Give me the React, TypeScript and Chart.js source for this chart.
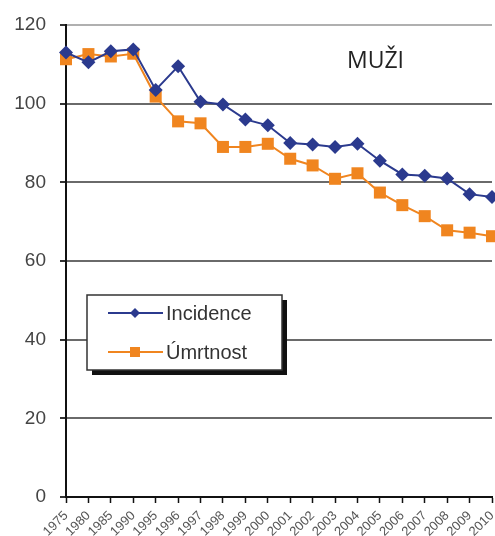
import React, { useEffect, useRef } from "react";
import { Chart, registerables } from "chart.js";

Chart.register(...registerables);

const years: string[] = [
  "1975", "1980", "1985", "1990", "1995", "1996", "1997", "1998", "1999", "2000",
  "2001", "2002", "2003", "2004", "2005", "2006", "2007", "2008", "2009", "2010",
];

const incidence: number[] = [
  113, 110.5, 113.3, 113.8, 103.5, 109.5, 100.5, 99.8, 96, 94.5,
  90, 89.6, 89, 89.8, 85.5, 82, 81.7, 81, 77, 76.3,
];

const mortality: number[] = [
  111.3, 112.6, 112, 112.7, 101.8, 95.5, 95, 89, 89, 89.8,
  86, 84.3, 80.9, 82.3, 77.4, 74.2, 71.4, 67.8, 67.2, 66.3,
];

const seriesNames: string[] = ["Incidence", "Úmrtnost"];
const title = "MUŽI";
const yTicks: number[] = [0, 20, 40, 60, 80, 100, 120];

const BLUE = "#2b3a8e";
const ORANGE = "#f0851f";

const overlayPlugin = {
  id: "overlay",
  afterDraw(chart: any) {
    const ctx = chart.ctx as CanvasRenderingContext2D;
    ctx.save();
    // title
    ctx.font = '23px "Open Sans", "Noto Sans", sans-serif';
    ctx.fillStyle = "#222";
    ctx.textAlign = "left";
    ctx.textBaseline = "alphabetic";
    ctx.fillText(title, 347, 68);

    // legend box with shadow
    const bx = 87, by = 295, bw = 195, bh = 75;
    ctx.fillStyle = "#111";
    ctx.fillRect(bx + 5, by + 5, bw, bh);
    ctx.fillStyle = "#fff";
    ctx.fillRect(bx, by, bw, bh);
    ctx.strokeStyle = "#333";
    ctx.lineWidth = 1.5;
    ctx.strokeRect(bx, by, bw, bh);

    const items = [
      { name: seriesNames[0], color: BLUE, y: 313, style: "diamond" },
      { name: seriesNames[1], color: ORANGE, y: 352, style: "square" },
    ];
    items.forEach((it) => {
      ctx.strokeStyle = it.color;
      ctx.lineWidth = 2;
      ctx.beginPath();
      ctx.moveTo(108, it.y);
      ctx.lineTo(163, it.y);
      ctx.stroke();
      ctx.fillStyle = it.color;
      ctx.beginPath();
      if (it.style === "diamond") {
        ctx.moveTo(135, it.y - 5);
        ctx.lineTo(140, it.y);
        ctx.lineTo(135, it.y + 5);
        ctx.lineTo(130, it.y);
        ctx.closePath();
        ctx.fill();
      } else {
        ctx.fillRect(130, it.y - 5, 10, 10);
      }
      ctx.fillStyle = "#333";
      ctx.font = '20px "Liberation Sans", Arial, sans-serif';
      ctx.textAlign = "left";
      ctx.textBaseline = "middle";
      ctx.fillText(it.name, 166, it.y + 1);
    });
    ctx.restore();
  },
};

export default function App() {
  const ref = useRef<HTMLCanvasElement>(null);

  useEffect(() => {
    document.body.style.margin = "0";
    const canvas = ref.current;
    if (!canvas) return;
    const chart = new Chart(canvas, {
      type: "line",
      data: {
        labels: years,
        datasets: [
          {
            label: seriesNames[0],
            data: incidence,
            borderColor: BLUE,
            backgroundColor: BLUE,
            borderWidth: 2,
            pointStyle: "rectRot",
            pointRadius: 7,
            pointBorderWidth: 0,
            tension: 0,
          },
          {
            label: seriesNames[1],
            data: mortality,
            borderColor: ORANGE,
            backgroundColor: ORANGE,
            borderWidth: 2,
            pointStyle: "rect",
            pointRadius: 8.5,
            pointBorderWidth: 0,
            tension: 0,
          },
        ],
      },
      options: {
        responsive: false,
        animation: false,
        clip: false,
        layout: { autoPadding: false, padding: { top: 25, right: 3, left: 0, bottom: 0 } },
        plugins: {
          legend: { display: false },
          tooltip: { enabled: false },
          title: { display: false },
        },
        scales: {
          x: {
            offset: false,
            grid: {
              drawOnChartArea: false,
              drawTicks: true,
              tickLength: 6,
              tickColor: "#111",
              tickWidth: 1.5,
            },
            border: { display: true, color: "#111", width: 2 },
            ticks: {
              autoSkip: false,
              maxRotation: 45,
              minRotation: 45,
              padding: 5,
              color: "#555",
              font: { family: '"Liberation Sans", Arial, sans-serif', size: 13 },
            },
            afterFit(scale: any) {
              scale.height = 39;
              scale.paddingLeft = 0;
              scale.paddingRight = 0;
            },
          },
          y: {
            min: 0,
            max: 120,
            afterBuildTicks(scale: any) {
              scale.ticks = yTicks.map((v) => ({ value: v }));
            },
            grid: {
              color: (c: any) => (c.tick && c.tick.value === 120 ? "#b0b0b0" : "#6a6a6a"),
              lineWidth: 2,
              drawTicks: true,
              tickLength: 6,
              tickColor: "#333",
            },
            border: { display: true, color: "#111", width: 2 },
            ticks: {
              padding: 14,
              color: "#444",
              font: { family: '"Liberation Sans", Arial, sans-serif', size: 19 },
            },
            afterFit(scale: any) {
              scale.width = 66;
              scale.paddingTop = 0;
              scale.paddingBottom = 0;
            },
          },
        },
      },
      plugins: [overlayPlugin],
    });
    return () => chart.destroy();
  }, []);

  return (
    <div style={{ position: "absolute", left: 0, top: 0, width: 495, height: 536, background: "#fff" }}>
      <canvas ref={ref} width={495} height={536} />
    </div>
  );
}
